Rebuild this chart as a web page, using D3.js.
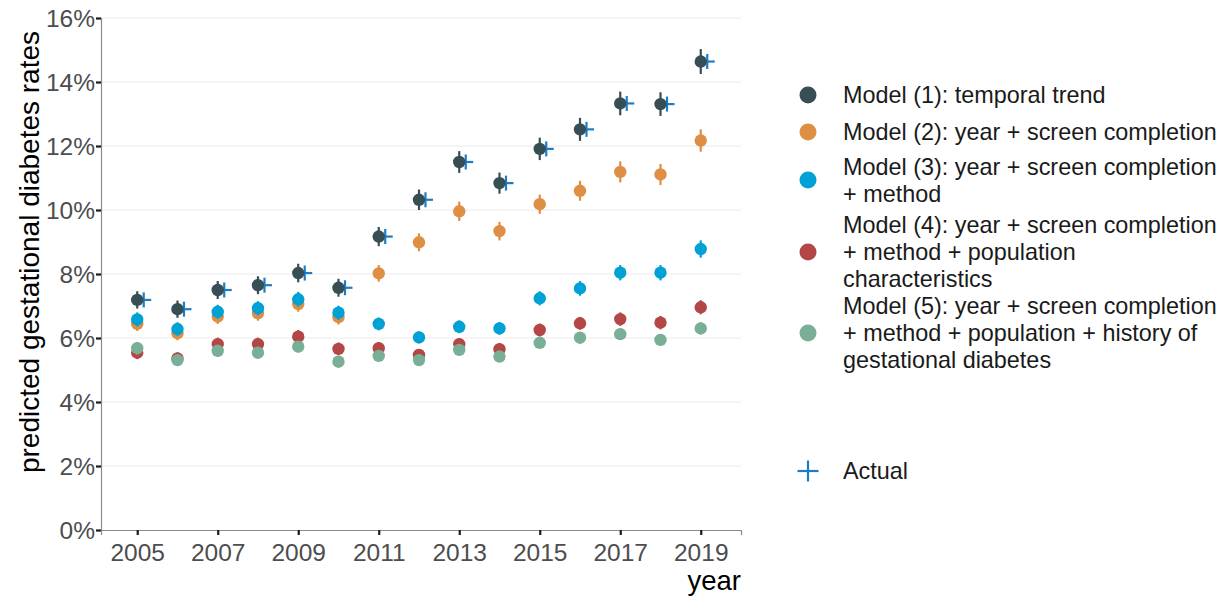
<!DOCTYPE html>
<html>
<head>
<meta charset="utf-8">
<script src="https://cdn.jsdelivr.net/npm/d3@7"></script>
<style>
  body { margin: 0; background: #fff; }
  text { font-family: "Liberation Sans", Arial, Helvetica, sans-serif; }
</style>
</head>
<body>
<svg id="chart" width="1228" height="597"></svg>
<script>
// Predicted gestational diabetes rates (%) by year, five nested models + observed rate
const years = [2005, 2006, 2007, 2008, 2009, 2010, 2011, 2012, 2013, 2014, 2015, 2016, 2017, 2018, 2019];

const model1 = [7.19, 6.90, 7.50, 7.65, 8.03, 7.57, 9.17, 10.32, 11.50, 10.84, 11.91, 12.52, 13.33, 13.31, 14.64];
const model2 = [6.44, 6.15, 6.67, 6.77, 7.06, 6.65, 8.02, 8.99, 9.96, 9.34, 10.18, 10.60, 11.19, 11.11, 12.17];
const model3 = [6.58, 6.28, 6.82, 6.93, 7.21, 6.79, 6.44, 6.02, 6.35, 6.30, 7.24, 7.55, 8.04, 8.04, 8.78];
const model4 = [5.54, 5.36, 5.81, 5.81, 6.04, 5.66, 5.68, 5.47, 5.81, 5.65, 6.25, 6.46, 6.59, 6.48, 6.96];
const model5 = [5.68, 5.31, 5.60, 5.54, 5.73, 5.26, 5.44, 5.31, 5.63, 5.42, 5.85, 6.01, 6.12, 5.94, 6.30];
const actual = [7.19, 6.90, 7.50, 7.65, 8.03, 7.57, 9.17, 10.32, 11.50, 10.84, 11.91, 12.52, 13.33, 13.31, 14.64];

// 95% CI half-widths (percentage points)
const ci1 = [0.27, 0.27, 0.28, 0.28, 0.29, 0.28, 0.30, 0.32, 0.34, 0.33, 0.35, 0.36, 0.37, 0.37, 0.39];
const ci2 = [0.22, 0.22, 0.23, 0.23, 0.24, 0.23, 0.26, 0.28, 0.30, 0.29, 0.30, 0.31, 0.33, 0.33, 0.35];
const ci3 = [0.22, 0.21, 0.22, 0.22, 0.23, 0.22, 0.20, 0.19, 0.20, 0.20, 0.22, 0.23, 0.24, 0.24, 0.27];
const ci4 = [0.20, 0.19, 0.20, 0.20, 0.21, 0.20, 0.19, 0.18, 0.19, 0.19, 0.20, 0.20, 0.21, 0.21, 0.22];
const ci5 = [0.19, 0.18, 0.18, 0.18, 0.18, 0.17, 0.17, 0.17, 0.17, 0.17, 0.17, 0.18, 0.18, 0.18, 0.19];

const modelLabels = [
  ["Model (1): temporal trend"],
  ["Model (2): year + screen completion"],
  ["Model (3): year + screen completion", "+ method"],
  ["Model (4): year + screen completion", "+ method + population", "characteristics"],
  ["Model (5): year + screen completion", "+ method + population + history of", "gestational diabetes"]
];
const actualLabel = "Actual";

const yTicks = [0, 2, 4, 6, 8, 10, 12, 14, 16];
const xTicks = [2005, 2007, 2009, 2011, 2013, 2015, 2017, 2019];
const xTitle = "year";
const yTitle = "predicted gestational diabetes rates";

const palette = ["#374E55", "#DF8F44", "#00A1D5", "#B24745", "#79AF97"];
const actualColor = "#1C7DC6";

const seriesValues = [model1, model2, model3, model4, model5];
const seriesCI = [ci1, ci2, ci3, ci4, ci5];

const svg = d3.select("#chart");
const panel = { left: 101, right: 741, top: 18, bottom: 530 };

const x = d3.scaleLinear().domain([2004.1, 2020]).range([panel.left, panel.right]);
const y = d3.scaleLinear().domain([0, 16]).range([panel.bottom, panel.top]);

// horizontal grid
svg.append("g")
  .selectAll("line")
  .data(yTicks.filter(d => d > 0))
  .join("line")
  .attr("x1", panel.left).attr("x2", panel.right)
  .attr("y1", d => y(d)).attr("y2", d => y(d))
  .attr("stroke", "#EBEBEB").attr("stroke-width", 1.2);

// axes
const yAxis = svg.append("g")
  .attr("transform", `translate(${panel.left},0)`)
  .call(d3.axisLeft(y).tickValues(yTicks).tickFormat(d => d + "%").tickSize(5).tickPadding(1));
const xAxis = svg.append("g")
  .attr("transform", `translate(0,${panel.bottom})`)
  .call(d3.axisBottom(x).tickValues(xTicks).tickFormat(d3.format("d")).tickSize(5).tickPadding(3));

[yAxis, xAxis].forEach(g => {
  g.select(".domain").attr("stroke", "#8A8A8A").attr("stroke-width", 1.2);
  g.selectAll(".tick line").attr("stroke", "#1A1A1A").attr("stroke-width", 2.2);
  g.selectAll(".tick text")
    .attr("fill", "#4D4D4D")
    .style("font-size", "24.5px")
    .style("font-family", '"Liberation Sans", Arial, sans-serif');
});
xAxis.selectAll(".tick text").attr("dy", "0.95em");
yAxis.selectAll(".tick text").attr("dy", "0.36em");

// axis titles
svg.append("text")
  .attr("x", panel.right).attr("y", 590)
  .attr("text-anchor", "end")
  .attr("fill", "#000")
  .style("font-size", "27.5px")
  .text(xTitle);
svg.append("text")
  .attr("transform", `translate(39,252) rotate(-90)`)
  .attr("text-anchor", "middle")
  .attr("fill", "#000")
  .style("font-size", "28px")
  .text(yTitle);

// observed rates (plus markers, drawn beneath the model points)
const plusOffset = 6.5, plusArm = 7.5;
const actualG = svg.append("g");
years.forEach((yr, i) => {
  const cx = x(yr) + plusOffset, cy = y(actual[i]);
  actualG.append("line")
    .attr("x1", cx - plusArm).attr("x2", cx + plusArm).attr("y1", cy).attr("y2", cy)
    .attr("stroke", actualColor).attr("stroke-width", 2.2);
  actualG.append("line")
    .attr("x1", cx).attr("x2", cx).attr("y1", cy - plusArm).attr("y2", cy + plusArm)
    .attr("stroke", actualColor).attr("stroke-width", 2.2);
});

// model point ranges
seriesValues.forEach((vals, s) => {
  const g = svg.append("g");
  const col = palette[s];
  const ci = seriesCI[s];
  g.selectAll("line")
    .data(years)
    .join("line")
    .attr("x1", d => x(d)).attr("x2", d => x(d))
    .attr("y1", (d, i) => y(vals[i] - ci[i]))
    .attr("y2", (d, i) => y(vals[i] + ci[i]))
    .attr("stroke", col).attr("stroke-width", 2.2);
  g.selectAll("circle")
    .data(years)
    .join("circle")
    .attr("cx", d => x(d))
    .attr("cy", (d, i) => y(vals[i]))
    .attr("r", 6.2)
    .attr("fill", col);
});

// legend
const legend = svg.append("g");
const legendDotX = 808, legendTextX = 843, lineH = 26.8;
const legendCenters = [95, 132, 180, 252, 333];
modelLabels.forEach((lines, s) => {
  const cy = legendCenters[s];
  legend.append("circle")
    .attr("cx", legendDotX).attr("cy", cy).attr("r", 8.5)
    .attr("fill", palette[s]);
  const top = cy - (lines.length - 1) * lineH / 2;
  lines.forEach((ln, j) => {
    legend.append("text")
      .attr("x", legendTextX).attr("y", top + j * lineH)
      .attr("dy", "0.35em")
      .attr("fill", "#1A1A1A")
      .style("font-size", "23.4px")
      .text(ln);
  });
});
const ay = 471, arm = 10.5;
legend.append("line")
  .attr("x1", legendDotX - arm).attr("x2", legendDotX + arm).attr("y1", ay).attr("y2", ay)
  .attr("stroke", actualColor).attr("stroke-width", 2.2);
legend.append("line")
  .attr("x1", legendDotX).attr("x2", legendDotX).attr("y1", ay - arm).attr("y2", ay + arm)
  .attr("stroke", actualColor).attr("stroke-width", 2.2);
legend.append("text")
  .attr("x", legendTextX).attr("y", ay).attr("dy", "0.35em")
  .attr("fill", "#1A1A1A")
  .style("font-size", "23.4px")
  .text(actualLabel);
</script>
</body>
</html>
